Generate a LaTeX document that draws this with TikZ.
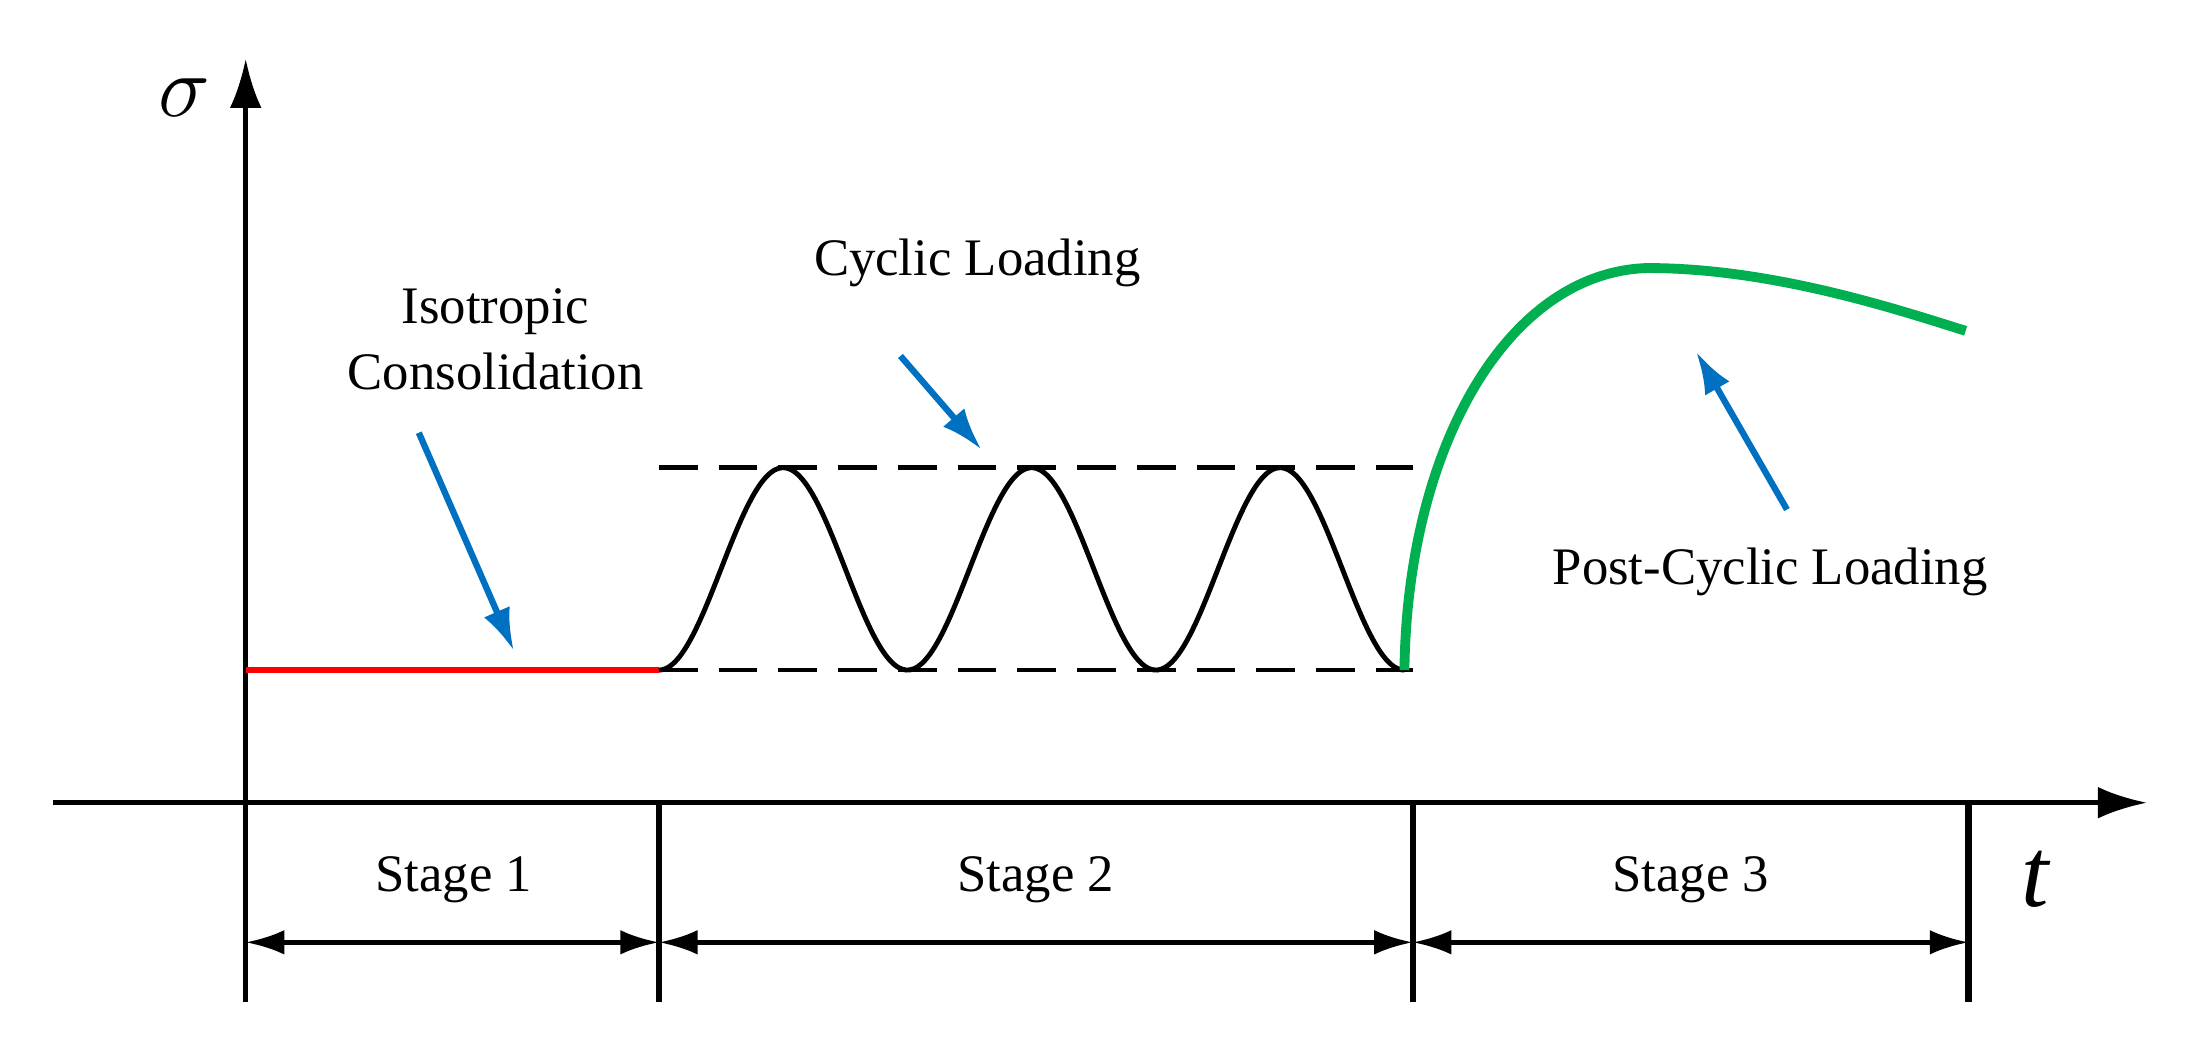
\documentclass[tikz,border=0pt]{standalone}
\usepackage{fontspec}
\setmainfont{Liberation Serif}
\usetikzlibrary{arrows.meta}
\definecolor{arrblue}{RGB}{0,112,192}
\definecolor{grn}{RGB}{0,176,80}
\tikzset{
 axis/.style={line width=1.4pt,-{Latex[length=14pt,width=9pt]}},
 sline/.style={line width=1.8pt},
 dim/.style={line width=1.3pt,{Latex[length=11pt,width=7pt]}-{Latex[length=11pt,width=7pt]}},
 lbl/.style={font=\fontsize{15}{19}\selectfont,align=center},
 pointer/.style={arrblue,line width=1.8pt,-{Latex[length=12pt,width=8pt]}},
 dash line/.style={line width=1.3pt,dash pattern=on 11pt off 6pt}
}
\begin{document}
\begin{tikzpicture}[x=0.01396cm,y=-0.01396cm]
\useasboundingbox (0,0) rectangle (1568,759);
% axes
\coordinate (o) at (176,575);
\coordinate (yb) at (176,718);
\coordinate (yt) at (176,42);
\coordinate (xl) at (38,575);
\coordinate (xr) at (1538,575);
\draw[axis] (yb) -- (yt);
\draw[axis] (xl) -- (xr);
\node[font=\fontsize{30}{30}\selectfont\itshape] (sig) at (132,70) {$\sigma$};
\node[font=\fontsize{28}{28}\selectfont\itshape] (tl) at (1458,630) {t};
% stage separators
\coordinate (s1t) at (472,575); \coordinate (s1b) at (472,718);
\coordinate (s2t) at (1012,575); \coordinate (s2b) at (1012,718);
\coordinate (s3t) at (1410,575); \coordinate (s3b) at (1410,718);
\draw[sline] (s1t)--(s1b); \draw[sline] (s2t)--(s2b); \draw[sline] (s3t)--(s3b);
\coordinate (a0) at (176,675); \coordinate (a1) at (472,675);
\coordinate (a2) at (1012,675); \coordinate (a3) at (1410,675);
\draw[dim] (a0)--(a1); \draw[dim] (a1)--(a2); \draw[dim] (a2)--(a3);
\node[lbl] (st1) at (325,630) {Stage 1};
\node[lbl] (st2) at (742,630) {Stage 2};
\node[lbl] (st3) at (1211,630) {Stage 3};
% red line
\coordinate (r0) at (176,480); \coordinate (r1) at (472,480);
\draw[red,line width=1.6pt] (r0)--(r1);
% dashed bounds
\coordinate (d0) at (472,335); \coordinate (d1) at (1012,335);
\coordinate (e0) at (472,480); \coordinate (e1) at (1012,480);
\draw[dash line] (d0)--(d1); \draw[dash line] (e0)--(e1);
% sine
\draw[line width=1.4pt,domain=472:1006,samples=200,smooth] plot (\x,{407.5+72.5*cos(2.02247*(\x-472))});
% green
\coordinate (g0) at (1006,480);
\draw[grn,line width=2.8pt] (g0) .. controls (1008,320) and (1080,195) .. (1180,192) .. controls (1270,192) and (1360,222) .. (1408,237);
% labels & pointers
\node[lbl] (iso) at (355,243) {Isotropic\\Consolidation};
\coordinate (ip0) at (300,310); \coordinate (ip1) at (368,466);
\draw[pointer] (ip0)--(ip1);
\node[lbl] (cyc) at (700,188) {Cyclic Loading};
\coordinate (cp0) at (645,255); \coordinate (cp1) at (703,322);
\draw[pointer] (cp0)--(cp1);
\node[lbl] (post) at (1268,410) {Post-Cyclic Loading};
\coordinate (pp0) at (1280,365); \coordinate (pp1) at (1215,252);
\draw[pointer] (pp0)--(pp1);
\end{tikzpicture}
\end{document}
